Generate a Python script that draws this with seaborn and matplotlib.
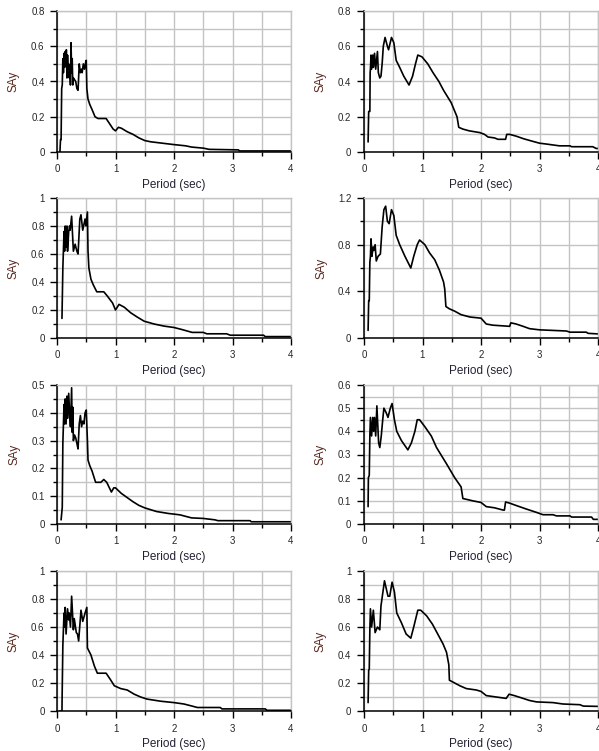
import numpy as np
import pandas as pd
import matplotlib
matplotlib.use("Agg")
import matplotlib.pyplot as plt
from matplotlib.ticker import MultipleLocator, FuncFormatter
import seaborn as sns

# ---- data: (period [s], SAy) pairs ----
p1 = [(0.05, 0.00), (0.06, 0.07), (0.07, 0.07), (0.08, 0.36), (0.09, 0.38), (0.10, 0.53),
      (0.11, 0.45), (0.12, 0.56), (0.13, 0.48), (0.14, 0.57), (0.15, 0.50), (0.16, 0.58),
      (0.17, 0.42), (0.18, 0.55), (0.19, 0.47), (0.20, 0.50), (0.21, 0.42), (0.22, 0.47),
      (0.23, 0.38), (0.24, 0.62), (0.25, 0.45), (0.26, 0.53), (0.27, 0.38), (0.28, 0.42),
      (0.30, 0.41), (0.32, 0.40), (0.34, 0.36), (0.36, 0.35), (0.38, 0.50), (0.40, 0.45),
      (0.42, 0.47), (0.43, 0.45), (0.45, 0.50), (0.47, 0.47), (0.49, 0.51), (0.50, 0.52),
      (0.51, 0.36), (0.53, 0.30), (0.56, 0.27), (0.60, 0.24), (0.65, 0.20), (0.70, 0.19),
      (0.80, 0.19), (0.84, 0.19), (0.90, 0.16), (0.96, 0.13), (1.00, 0.12), (1.05, 0.14),
      (1.10, 0.135), (1.20, 0.115), (1.30, 0.10), (1.40, 0.08), (1.50, 0.065), (1.60, 0.058),
      (1.80, 0.05), (2.00, 0.042), (2.20, 0.035), (2.30, 0.028), (2.50, 0.022), (2.60, 0.015),
      (3.10, 0.012), (3.12, 0.006), (4.00, 0.006)]

p2 = [(0.07, 0.057), (0.08, 0.23), (0.10, 0.23), (0.105, 0.45), (0.11, 0.47), (0.12, 0.55),
      (0.13, 0.47), (0.15, 0.55), (0.16, 0.48), (0.18, 0.56), (0.20, 0.47), (0.23, 0.57),
      (0.245, 0.45), (0.27, 0.42), (0.29, 0.43), (0.31, 0.50), (0.33, 0.60), (0.36, 0.65),
      (0.40, 0.60), (0.42, 0.58), (0.47, 0.65), (0.51, 0.62), (0.55, 0.52), (0.61, 0.48),
      (0.68, 0.43), (0.77, 0.38), (0.83, 0.43), (0.88, 0.50), (0.92, 0.55), (0.99, 0.54),
      (1.04, 0.52), (1.09, 0.50), (1.18, 0.45), (1.28, 0.40), (1.36, 0.35), (1.49, 0.28),
      (1.59, 0.20), (1.62, 0.14), (1.69, 0.13), (1.80, 0.12), (1.98, 0.11), (2.06, 0.10),
      (2.12, 0.085), (2.23, 0.08), (2.29, 0.072), (2.42, 0.072), (2.44, 0.10), (2.49, 0.10),
      (2.60, 0.09), (2.73, 0.075), (2.89, 0.06), (3.00, 0.05), (3.12, 0.045), (3.23, 0.04),
      (3.34, 0.035), (3.52, 0.035), (3.55, 0.03), (3.91, 0.03), (3.97, 0.02), (4.00, 0.02)]

p3 = [(0.085, 0.14), (0.10, 0.50), (0.12, 0.76), (0.13, 0.62), (0.14, 0.80), (0.155, 0.65),
      (0.17, 0.80), (0.18, 0.62), (0.20, 0.76), (0.215, 0.80), (0.225, 0.77), (0.25, 0.87),
      (0.28, 0.62), (0.31, 0.67), (0.34, 0.62), (0.36, 0.60), (0.39, 0.85), (0.41, 0.88),
      (0.44, 0.77), (0.48, 0.85), (0.495, 0.80), (0.52, 0.90), (0.53, 0.62), (0.545, 0.50),
      (0.58, 0.42), (0.62, 0.38), (0.68, 0.33), (0.80, 0.33), (0.86, 0.30), (0.95, 0.25),
      (1.00, 0.20), (1.06, 0.24), (1.15, 0.22), (1.26, 0.18), (1.37, 0.15), (1.49, 0.12),
      (1.66, 0.10), (1.83, 0.085), (2.00, 0.075), (2.14, 0.06), (2.31, 0.04), (2.50, 0.04),
      (2.56, 0.03), (2.90, 0.03), (2.96, 0.02), (3.53, 0.02), (3.56, 0.01), (4.00, 0.01)]

p4 = [(0.07, 0.065), (0.08, 0.32), (0.09, 0.32), (0.10, 0.65), (0.11, 0.70), (0.12, 0.85),
      (0.135, 0.70), (0.155, 0.78), (0.165, 0.75), (0.19, 0.80), (0.21, 0.66), (0.24, 0.70),
      (0.28, 0.72), (0.31, 0.95), (0.34, 1.10), (0.37, 1.13), (0.40, 1.00), (0.43, 0.98),
      (0.47, 1.10), (0.51, 1.05), (0.55, 0.88), (0.61, 0.80), (0.70, 0.70), (0.80, 0.60),
      (0.85, 0.70), (0.91, 0.80), (0.95, 0.84), (1.04, 0.80), (1.12, 0.73), (1.21, 0.67),
      (1.29, 0.58), (1.36, 0.48), (1.38, 0.42), (1.40, 0.27), (1.46, 0.25), (1.55, 0.23),
      (1.66, 0.20), (1.81, 0.18), (2.00, 0.17), (2.09, 0.12), (2.20, 0.11), (2.49, 0.10),
      (2.51, 0.13), (2.60, 0.12), (2.72, 0.10), (2.83, 0.08), (3.00, 0.07), (3.23, 0.065),
      (3.46, 0.06), (3.52, 0.05), (3.80, 0.05), (3.83, 0.04), (4.00, 0.035)]

p5 = [(0.07, 0.015), (0.09, 0.06), (0.10, 0.29), (0.12, 0.43), (0.13, 0.36), (0.14, 0.45),
      (0.155, 0.36), (0.17, 0.46), (0.18, 0.38), (0.20, 0.47), (0.215, 0.40), (0.23, 0.35),
      (0.25, 0.49), (0.26, 0.33), (0.27, 0.42), (0.28, 0.30), (0.30, 0.32), (0.32, 0.31),
      (0.34, 0.29), (0.36, 0.27), (0.38, 0.36), (0.40, 0.39), (0.42, 0.35), (0.44, 0.37),
      (0.46, 0.36), (0.48, 0.40), (0.50, 0.41), (0.52, 0.30), (0.53, 0.23), (0.56, 0.21),
      (0.60, 0.19), (0.66, 0.15), (0.75, 0.15), (0.80, 0.16), (0.85, 0.15), (0.93, 0.115),
      (0.97, 0.13), (1.00, 0.13), (1.10, 0.11), (1.20, 0.095), (1.30, 0.08), (1.40, 0.067),
      (1.50, 0.058), (1.70, 0.045), (1.90, 0.038), (2.10, 0.033), (2.30, 0.022), (2.50, 0.02),
      (2.70, 0.015), (2.75, 0.012), (3.30, 0.012), (3.32, 0.008), (4.00, 0.008)]

p6 = [(0.07, 0.075), (0.075, 0.20), (0.09, 0.21), (0.10, 0.38), (0.11, 0.46), (0.13, 0.38),
      (0.15, 0.46), (0.165, 0.40), (0.18, 0.46), (0.20, 0.38), (0.22, 0.51), (0.25, 0.35),
      (0.27, 0.33), (0.295, 0.38), (0.32, 0.45), (0.34, 0.50), (0.38, 0.48), (0.41, 0.46),
      (0.45, 0.50), (0.48, 0.52), (0.52, 0.45), (0.56, 0.40), (0.64, 0.36), (0.75, 0.32),
      (0.81, 0.35), (0.87, 0.40), (0.91, 0.45), (0.95, 0.45), (1.04, 0.42), (1.15, 0.38),
      (1.24, 0.33), (1.41, 0.26), (1.55, 0.20), (1.66, 0.16), (1.69, 0.11), (1.86, 0.10),
      (2.00, 0.093), (2.09, 0.075), (2.23, 0.07), (2.38, 0.06), (2.40, 0.06), (2.42, 0.095),
      (2.49, 0.09), (2.60, 0.08), (2.77, 0.065), (2.95, 0.05), (3.06, 0.04), (3.23, 0.04),
      (3.29, 0.035), (3.52, 0.035), (3.55, 0.03), (3.89, 0.03), (3.92, 0.02), (4.00, 0.02)]

p7 = [(0.05, 0.00), (0.085, 0.00), (0.087, 0.08), (0.10, 0.47), (0.12, 0.70), (0.13, 0.60),
      (0.14, 0.74), (0.155, 0.55), (0.18, 0.73), (0.20, 0.65), (0.21, 0.70), (0.23, 0.60),
      (0.25, 0.82), (0.28, 0.58), (0.295, 0.66), (0.33, 0.56), (0.35, 0.55), (0.37, 0.50),
      (0.41, 0.72), (0.44, 0.64), (0.48, 0.70), (0.51, 0.74), (0.52, 0.45), (0.58, 0.40),
      (0.64, 0.32), (0.69, 0.27), (0.84, 0.27), (0.92, 0.22), (0.98, 0.18), (1.09, 0.16),
      (1.20, 0.15), (1.32, 0.12), (1.43, 0.10), (1.54, 0.085), (1.77, 0.07), (2.00, 0.06),
      (2.17, 0.05), (2.31, 0.035), (2.40, 0.025), (2.79, 0.025), (2.82, 0.015), (3.56, 0.015),
      (3.59, 0.005), (4.00, 0.005)]

p8 = [(0.07, 0.06), (0.08, 0.29), (0.09, 0.30), (0.10, 0.58), (0.11, 0.73), (0.13, 0.60),
      (0.16, 0.72), (0.19, 0.56), (0.23, 0.60), (0.27, 0.58), (0.29, 0.75), (0.35, 0.93),
      (0.41, 0.82), (0.44, 0.82), (0.48, 0.92), (0.52, 0.85), (0.56, 0.70), (0.64, 0.63),
      (0.72, 0.55), (0.80, 0.52), (0.85, 0.60), (0.92, 0.72), (0.97, 0.72), (1.07, 0.68),
      (1.17, 0.62), (1.26, 0.55), (1.35, 0.48), (1.41, 0.42), (1.45, 0.33), (1.46, 0.22),
      (1.55, 0.20), (1.64, 0.18), (1.75, 0.16), (1.92, 0.15), (2.00, 0.14), (2.09, 0.11),
      (2.26, 0.10), (2.43, 0.09), (2.48, 0.12), (2.57, 0.11), (2.72, 0.09), (2.83, 0.075),
      (2.95, 0.065), (3.23, 0.06), (3.40, 0.05), (3.69, 0.045), (3.75, 0.035), (4.00, 0.033)]

panels = [p1, p2, p3, p4, p5, p6, p7, p8]
y_max = [0.8, 0.8, 1.0, 1.2, 0.5, 0.6, 1.0, 1.0]
y_major = [0.2, 0.2, 0.2, 0.4, 0.1, 0.1, 0.2, 0.2]
x_label = "Period (sec)"
y_label = "SAy"

# ---- style ----
sns.set_style("white")
plt.rcParams['font.family'] = ['Liberation Sans', 'DejaVu Sans']

W, H = 599, 751
fig = plt.figure(figsize=(W / 100, H / 100), dpi=100)

col_left = [57, 364]
ax_w = 234
row_top = [11, 198, 385, 571]
row_bot = [152, 338, 524, 711]

fmt = FuncFormatter(lambda v, p: ("%g" % round(v, 3)))

for i, pts in enumerate(panels):
    r, c = divmod(i, 2)
    x0 = col_left[c] / W
    y0 = 1 - row_bot[r] / H
    h = (row_bot[r] - row_top[r]) / H
    ax = fig.add_axes([x0, y0, ax_w / W, h])
    df = pd.DataFrame(pts, columns=["T", "SA"])
    sns.lineplot(data=df, x="T", y="SA", ax=ax, sort=False, estimator=None,
                 color="black", linewidth=1.2)
    ax.set_xlim(0, 4)
    ax.set_ylim(0, y_max[i])
    ax.xaxis.set_major_locator(MultipleLocator(1))
    ax.xaxis.set_minor_locator(MultipleLocator(0.5))
    ax.yaxis.set_major_locator(MultipleLocator(y_major[i]))
    ax.yaxis.set_minor_locator(MultipleLocator(y_major[i] / 2))
    ax.xaxis.set_major_formatter(fmt)
    ax.yaxis.set_major_formatter(fmt)
    ax.grid(True, which="both", color="#c4c4c4", linewidth=1.0)
    ax.set_axisbelow(True)
    for s in ["top", "right"]:
        ax.spines[s].set_color("#c4c4c4")
        ax.spines[s].set_linewidth(1.0)
    for s in ["left", "bottom"]:
        ax.spines[s].set_color("black")
        ax.spines[s].set_linewidth(1.1)
    ax.tick_params(which="major", direction="out", length=5, width=1, color="black",
                   labelsize=7, pad=4, bottom=True, left=True)
    ax.tick_params(which="minor", direction="out", length=3, width=1, color="black",
                   bottom=True, left=True)
    ax.set_xlabel(x_label, fontsize=8.5, color="#222233", labelpad=3)
    ax.set_ylabel(y_label, fontsize=8.5, color="#5a2a20", labelpad=8)

fig.savefig("out.png", dpi=100)
